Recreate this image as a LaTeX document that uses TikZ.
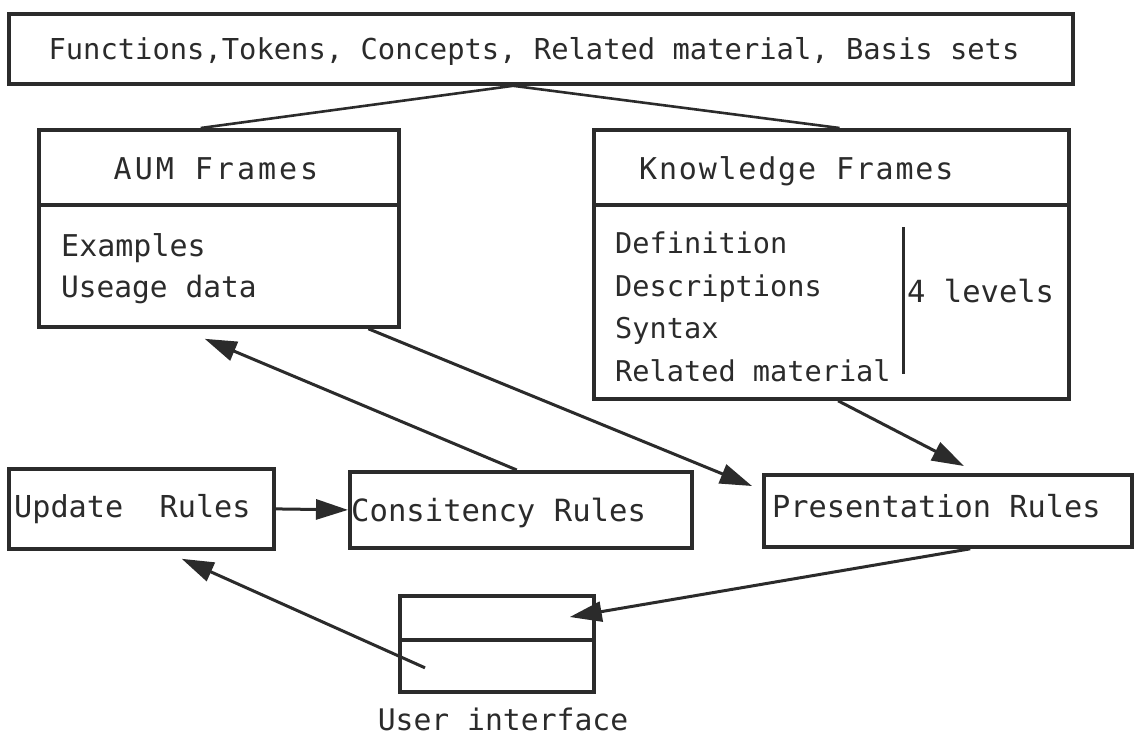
\documentclass[tikz,border=0pt]{standalone}
\usepackage{fontspec}
\setmainfont{DejaVu Sans Mono}
\newfontfamily\headfont{DejaVu Sans Mono}[LetterSpace=10]
\newfontfamily\kheadfont{DejaVu Sans Mono}[LetterSpace=6]
\usetikzlibrary{arrows.meta,calc}
\definecolor{ink}{HTML}{2B2B2B}
\newcommand{\fs}[1]{\fontsize{#1}{#1}\selectfont}
\tikzset{
  box/.style={draw=ink, line width=3.8pt, inner sep=0pt, anchor=north west},
  label/.style={text=ink, inner sep=0pt, anchor=base west},
  clabel/.style={text=ink, inner sep=0pt, anchor=base},
  link/.style={draw=ink, line width=2.6pt},
  divider/.style={draw=ink, line width=3.8pt},
  flow/.style={draw=ink, line width=3pt, -{Triangle[length=32pt,width=20pt]}},
}
\begin{document}
\begin{tikzpicture}[x=1pt,y=-1pt]
\useasboundingbox[fill=white] (0,0) rectangle (1136,740);

% top catalogue box
\node[box, minimum width=1064pt, minimum height=70pt] (top) at (7,12) {};
\node[clabel] (toptxt) at (534,59)
  {\fs{28.8pt}Functions,Tokens, Concepts, Related material, Basis sets};

% AUM frames
\node[box, minimum width=360pt, minimum height=197pt] (aum) at (37,128) {};
\draw[divider] ($(aum.north west)+(0,77)$) -- ($(aum.north east)+(0,77)$);
\node[clabel] (aumt) at (216,179) {\headfont\fs{30pt}AUM Frames};
\node[label] (ex) at (61,256) {\fs{30pt}Examples};
\node[label] (use) at (61,297) {\fs{29.5pt}Useage data};

% knowledge frames
\node[box, minimum width=475pt, minimum height=269pt] (kf) at (592,128) {};
\draw[divider] ($(kf.north west)+(0,77)$) -- ($(kf.north east)+(0,77)$);
\node[label] (kft) at (639,179) {\kheadfont\fs{30pt}Knowledge Frames};
\node[label] (def) at (615,253) {\fs{28.6pt}Definition};
\node[label] (desc) at (615,296) {\fs{28.6pt}Descriptions};
\node[label] (syn) at (615,338) {\fs{28.6pt}Syntax};
\node[label] (rel) at (615,381) {\fs{28.6pt}Related material};
\coordinate (bartop) at (903,227);
\coordinate (barbot) at (903,374);
\draw[link, line width=3pt] (bartop) -- (barbot);
\node[label] (lev) at (907,302) {\fs{30.5pt}4 levels};

% rule boxes
\node[box, minimum width=265pt, minimum height=80pt] (upd) at (7,467) {};
\node[label] (updt) at (14,517) {\fs{30.2pt}Update\ \ Rules};
\node[box, minimum width=342pt, minimum height=76pt] (cons) at (348,470) {};
\node[label] (const) at (351,521) {\fs{30.6pt}Consitency Rules};
\node[box, minimum width=368pt, minimum height=72pt] (pres) at (762,473) {};
\node[label] (prest) at (772,517) {\fs{30.3pt}Presentation Rules};

% user interface
\node[box, minimum width=194pt, minimum height=96pt] (ui) at (398,594) {};
\draw[divider] ($(ui.north west)+(0,46)$) -- ($(ui.north east)+(0,46)$);
\node[clabel] (uit) at (503,730) {\fs{29.7pt}User interface};

% hierarchy links
\coordinate (fork) at ($(top.south west)!0.474!(top.south east)$);
\draw[link] (fork) -- ($(aum.north west)!0.45!(aum.north east)$);
\draw[link] (fork) -- ($(kf.north west)!0.517!(kf.north east)$);

% flows
\draw[flow] ($(cons.north west)!0.488!(cons.north east)$) -- ($(aum.south west)!0.461!(aum.south east)+(0,10)$);
\draw[flow] ($(aum.south west)!0.911!(aum.south east)$) -- ($(pres.north west)+(-10,13)$);
\draw[flow] ($(kf.south west)!0.514!(kf.south east)$) -- ($(pres.north west)!0.543!(pres.north east)+(0,-7)$);
\draw[flow] (upd.east) -- (cons.west);
\draw[flow] ($(pres.south west)!0.56!(pres.south east)$) -- ($(ui.north east)+(-26,23)$);
\draw[flow] ($(ui.south west)+(27,-26)$) -- ($(upd.south west)!0.65!(upd.south east)+(0,8)$);
\end{tikzpicture}
\end{document}
